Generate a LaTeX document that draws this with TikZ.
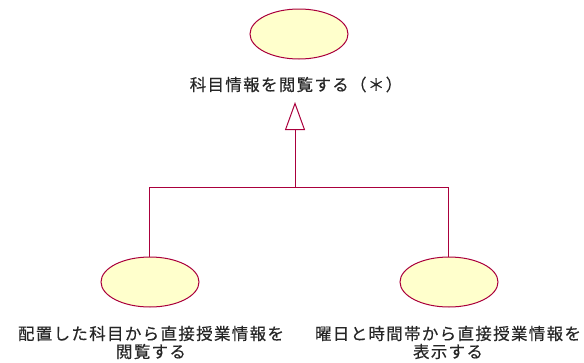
\documentclass[tikz,border=0pt]{standalone}
\usepackage{fontspec}
\newfontfamily\jpfont[LetterSpace=8,FakeBold=0.4]{Noto Sans CJK JP}
\usetikzlibrary{shapes.geometric,arrows.meta}
\definecolor{uline}{RGB}{170,0,60}
\definecolor{ufill}{RGB}{255,255,204}
\begin{document}
\begin{tikzpicture}[x=1pt,y=-1pt,
  usecase/.style={ellipse,draw=uline,fill=ufill,line width=1pt,minimum width=98pt,minimum height=50pt,inner sep=0pt},
  lbl/.style={font=\jpfont\fontsize{16.5pt}{18pt}\selectfont,align=center,inner sep=0pt,text=black!85},
  gen/.style={draw=uline,line width=1pt}]
\useasboundingbox (0,0) rectangle (584,362);
\node[usecase] (top) at (299,34) {};
\node[lbl] (toplbl) at (296,84.5) {科目情報を閲覧する（＊）};
\node[usecase] (left) at (150,282) {};
\node[lbl] (leftlbl) at (151,342.5) {配置した科目から直接授業情報を\\閲覧する};
\node[usecase] (right) at (449,282) {};
\node[lbl] (rightlbl) at (448,342.5) {曜日と時間帯から直接授業情報を\\表示する};
\coordinate (apex) at (295,102);
\coordinate (junc) at (295,187);
\draw[gen,-{Triangle[open,width=20pt,length=28pt]}] (left.north -| 149,0) |- (junc) -- (apex);
\draw[gen] (right.north -| 448,0) |- (junc);
\end{tikzpicture}
\end{document}
